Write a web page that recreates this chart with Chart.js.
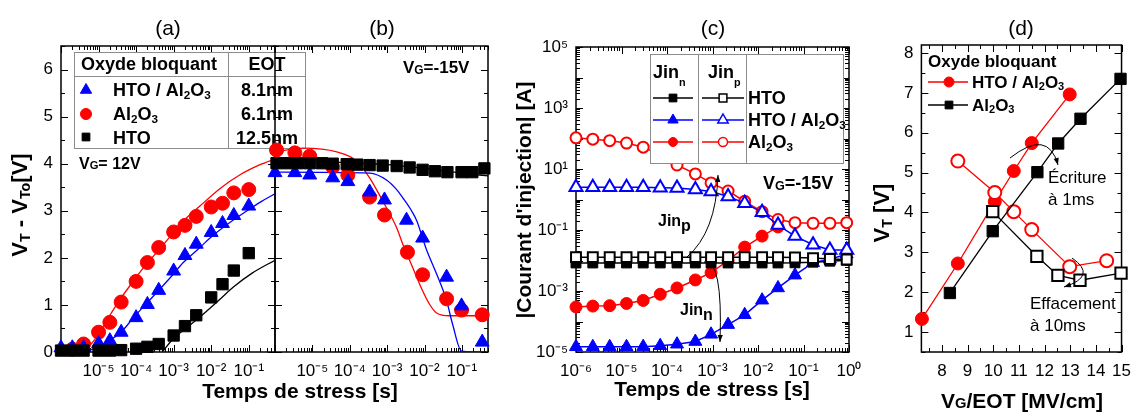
<!DOCTYPE html>
<html><head><meta charset="utf-8">
<script src="https://cdn.jsdelivr.net/npm/chart.js@4.4.1/dist/chart.umd.min.js"></script>
<style>
html,body{margin:0;padding:0;background:#fff;width:1140px;height:412px;overflow:hidden}
canvas{position:absolute;left:0;top:0}
</style></head><body>
<canvas id="ca" width="1140" height="412"></canvas>
<canvas id="cb" width="1140" height="412"></canvas>
<canvas id="cc" width="1140" height="412"></canvas>
<canvas id="cd" width="1140" height="412"></canvas>
<script>
// ---------- Panel (a): écriture, VG = 12V ----------
const aTimeAl2O3 = [2e-6,4e-6,1e-5,2e-5,4e-5,1e-4,2e-4,4e-4,1e-3,2e-3,4e-3,1e-2,2e-2,4e-2,1e-1];
const aVtAl2O3   = [0.06,0.17,0.42,0.63,1.06,1.5,1.9,2.22,2.55,2.69,2.88,3.08,3.16,3.38,3.45];
const aTimeHtoAl = [1e-6,2e-6,4e-6,1e-5,2e-5,4e-5,1e-4,2e-4,4e-4,1e-3,2e-3,4e-3,1e-2,2e-2,4e-2,1e-1];
const aVtHtoAl   = [0.09,0.09,0.09,0.18,0.24,0.42,0.73,1.01,1.31,1.72,2.05,2.29,2.54,2.73,2.9,3.1];
const aTimeHto   = [1e-6,2e-6,4e-6,1e-5,2e-5,4e-5,1e-4,2e-4,4e-4,1e-3,2e-3,4e-3,1e-2,2e-2,4e-2,1e-1];
const aVtHto     = [0.03,0.03,0.03,0.03,0.03,0.04,0.07,0.11,0.17,0.35,0.55,0.78,1.16,1.44,1.73,2.1];
const aFitTimeAl2O3 = [3.5e-6,6e-6,1e-5,2e-5,4e-5,8e-5,1.8e-4,3.6e-4,8e-4,1.5e-3,5e-3,1.7e-2,6e-2,0.2,0.5];
const aFitAl2O3     = [0,0.15,0.38,0.78,1.15,1.48,1.85,2.12,2.45,2.72,3.1,3.47,3.77,3.98,4.1];
const aFitTimeHtoAl = [4.4e-6,9e-6,1.8e-5,4.3e-5,8.3e-5,1.74e-4,3.9e-4,9e-4,1.8e-3,4.3e-3,9.3e-3,2.1e-2,9e-2,0.22,0.5];
const aFitHtoAl     = [0,0.1,0.22,0.45,0.72,1.0,1.3,1.62,1.9,2.17,2.42,2.65,3.0,3.2,3.36];
const aFitTimeHto   = [5e-4,9e-4,2.5e-3,5.1e-3,1.6e-2,3.9e-2,0.126,0.5];
const aFitHto       = [0,0.25,0.55,0.75,1.1,1.38,1.68,1.95];

// ---------- Panel (b): effacement, VG = -15V ----------
const bTimeHto   = [1.1e-6,2.2e-6,4.1e-6,8.5e-6,1.8e-5,3.5e-5,8.3e-5,1.6e-4,3.4e-4,7.6e-4,1.8e-3,4e-3,8.9e-3,1.9e-2,4.1e-2,9.8e-2,0.19,0.4];
const bVtHto     = [4.01,4.01,4.01,4.01,4.01,4.0,3.99,3.98,3.97,3.96,3.95,3.92,3.87,3.84,3.82,3.82,3.82,3.9];
const bTimeAl2O3 = [1.1e-6,3.4e-6,8.5e-6,3.5e-5,8.9e-5,3.4e-4,8.5e-4,3.5e-3,8.9e-3,3.9e-2,9.8e-2,0.35];
const bVtAl2O3   = [4.29,4.23,4.16,3.93,3.76,3.29,2.91,2.12,1.64,1.13,0.89,0.79];
const bTimeHtoAl = [1e-6,3.4e-6,8.5e-6,3.5e-5,8.9e-5,3.4e-4,8.5e-4,3.3e-3,8.9e-3,3.9e-2,9.8e-2,0.35];
const bVtHtoAl   = [3.81,3.81,3.76,3.7,3.62,3.4,3.23,2.8,2.42,1.59,0.98,0.21];
const bFitTimeHto   = [1e-6,1e-4,1e-3,1e-2,0.1,0.5];
const bFitHto       = [4.06,4.02,3.98,3.9,3.8,3.74];
const bFitTimeAl2O3 = [1e-6,5.6e-6,4.5e-5,1.5e-4,3.4e-4,7.6e-4,1.8e-3,2.6e-3,4.8e-3,8.9e-3,1.35e-2,2.1e-2,4.7e-2,0.5];
const bFitAl2O3     = [4.25,4.33,4.25,4.06,3.7,3.21,2.64,2.3,1.8,1.3,1.02,0.83,0.77,0.77];
const bFitTimeHtoAl = [1e-6,3.4e-4,9.8e-4,1.8e-3,2.6e-3,4.5e-3,6.2e-3,1.1e-2,2.1e-2,3.9e-2,5.6e-2,9.8e-2,0.5];
const bFitHtoAl     = [3.82,3.8,3.65,3.45,3.28,3.0,2.79,2.2,1.66,1.09,0.6,0.02,0];

// ---------- Panel (c): courants d'injection, VG = -15V ----------
const cTime        = [1e-6,2.34e-6,5.5e-6,1.29e-5,3.0e-5,7.1e-5,1.66e-4,4.2e-4,9.3e-4,2.2e-3,5.1e-3,1.23e-2,2.75e-2,6.5e-2,0.162,0.38,0.89];
const cJinnHto     = [8.3e-3,8.3e-3,8.3e-3,8.3e-3,8.3e-3,8.3e-3,8.3e-3,8.3e-3,8.3e-3,8.3e-3,8.3e-3,8.3e-3,8.3e-3,8.4e-3,8.8e-3,9.5e-3,1.02e-2];
const cJinpHto     = [1.29e-2,1.29e-2,1.29e-2,1.29e-2,1.29e-2,1.29e-2,1.29e-2,1.29e-2,1.29e-2,1.29e-2,1.29e-2,1.29e-2,1.28e-2,1.26e-2,1.2e-2,1.12e-2,1.08e-2];
const cJinnHtoAl   = [1.48e-5,1.48e-5,1.48e-5,1.48e-5,1.5e-5,1.6e-5,1.8e-5,2.2e-5,3.8e-5,7.9e-5,1.66e-4,5.0e-4,1.26e-3,3.3e-3,8.5e-3,1.1e-2,1.6e-2];
const cJinpHtoAl   = [2.5,2.5,2.5,2.5,2.5,2.45,2.4,2.14,1.82,1.26,0.76,0.38,0.145,0.063,0.033,0.022,0.022];
const cJinnAl2O3   = [3.0e-4,3.2e-4,3.3e-4,3.9e-4,4.9e-4,7.8e-4,1.26e-3,2.3e-3,4.0e-3,1.0e-2,2.75e-2,6.3e-2,0.126];
const cJinpAl2O3   = [105,95,85,71,52,29,13.5,6.9,3.5,1.9,0.87,0.40,0.22,0.174,0.166,0.166,0.174];

// ---------- Panel (d): VT vs VG/EOT ----------
const dFieldWriteHtoAl = [7.22,8.62,10.06,10.8,11.5,12.98];
const dVtWriteHtoAl    = [1.33,2.72,4.27,5.04,5.74,6.96];
const dFieldEraseHtoAl = [8.62,10.06,10.8,11.5,12.98,14.42];
const dVtEraseHtoAl    = [5.29,4.5,4.02,3.57,2.64,2.79];
const dFieldWriteAl2O3 = [8.31,9.98,11.72,12.53,13.4,14.96];
const dVtWriteAl2O3    = [1.98,3.53,5.01,5.73,6.35,7.35];
const dFieldEraseAl2O3 = [9.98,11.7,12.52,13.38,14.98];
const dVtEraseAl2O3    = [4.02,2.9,2.42,2.3,2.48];

// ---------- tick labels ----------
const abXTicks = [1e-5,1e-4,1e-3,1e-2,1e-1];
const abYTicks = [0,1,2,3,4,5,6];
const cXTicks  = [1e-6,1e-5,1e-4,1e-3,1e-2,1e-1,1];
const cYTicks  = [1e-5,1e-3,1e-1,1e1,1e3,1e5];
const dXTicks  = [8,9,10,11,12,13,14,15];
const dYTicks  = [1,2,3,4,5,6,7,8];

// ---------- helpers ----------
const W = 1140, H = 412, XH = 40;
const RED = '#ff0000', BLUE = '#0000ff', BLACK = '#000000';
const FONT = '"Liberation Sans", Arial, Helvetica, sans-serif';
const fnt = (s, b) => (b ? 'bold ' : '') + s + 'px ' + FONT;
const pts = (xs, ys) => ys.map((y, i) => ({x: xs[i], y}));
const SUP = {'-':'\u207B','0':'\u2070','1':'\u00B9','2':'\u00B2','3':'\u00B3','4':'\u2074','5':'\u2075','6':'\u2076','7':'\u2077','8':'\u2078','9':'\u2079'};
const pow10Label = v => '10' + String(Math.round(Math.log10(v))).split('').map(c => SUP[c]).join('');

function rich(ctx, x, y, text, o) {
  o = Object.assign({size:18, bold:false, align:'left', color:'#000', subScale:0.65, subDy:0.12, rot:0}, o || {});
  const segs = []; const re = /_\{([^}]*)\}|\^\{([^}]*)\}|([^_^]+)/g; let m;
  while ((m = re.exec(text))) {
    if (m[1] !== undefined) segs.push({t:m[1], k:'sub'});
    else if (m[2] !== undefined) segs.push({t:m[2], k:'sup'});
    else segs.push({t:m[3], k:'n'});
  }
  ctx.save();
  let w = 0;
  for (const s of segs) { s.size = s.k === 'n' ? o.size : o.size * o.subScale; ctx.font = fnt(s.size, o.bold); s.w = ctx.measureText(s.t).width; w += s.w; }
  ctx.translate(x, y); if (o.rot) ctx.rotate(o.rot);
  let cx = o.align === 'center' ? -w / 2 : (o.align === 'right' ? -w : 0);
  const base = 0.36 * o.size;
  ctx.fillStyle = o.color; ctx.textAlign = 'left'; ctx.textBaseline = 'alphabetic';
  for (const s of segs) {
    ctx.font = fnt(s.size, o.bold);
    const dy = s.k === 'sub' ? o.size * o.subDy : (s.k === 'sup' ? -o.size * 0.4 : 0);
    ctx.fillText(s.t, cx, base + dy); cx += s.w;
  }
  ctx.restore();
}
function marker(ctx, style, x, y, r, fill, stroke, lw) {
  ctx.save(); ctx.beginPath();
  if (style === 'circle') ctx.arc(x, y, r, 0, Math.PI * 2);
  else if (style === 'triangle') { ctx.moveTo(x, y - r); ctx.lineTo(x + 0.866 * r, y + 0.5 * r); ctx.lineTo(x - 0.866 * r, y + 0.5 * r); ctx.closePath(); }
  else { const s = Math.SQRT1_2 * r; ctx.rect(x - s, y - s, 2 * s, 2 * s); }
  ctx.fillStyle = fill; ctx.fill(); ctx.lineWidth = lw || 1; ctx.strokeStyle = stroke; ctx.stroke(); ctx.restore();
}
function seg(ctx, x1, y1, x2, y2, color, lw) { ctx.save(); ctx.beginPath(); ctx.moveTo(x1, y1); ctx.lineTo(x2, y2); ctx.strokeStyle = color; ctx.lineWidth = lw || 1; ctx.stroke(); ctx.restore(); }
function curveArrow(ctx, p0, p1, p2) {
  ctx.save(); ctx.strokeStyle = '#000'; ctx.fillStyle = '#000'; ctx.lineWidth = 1;
  ctx.beginPath(); ctx.moveTo(p0[0], p0[1]); ctx.quadraticCurveTo(p1[0], p1[1], p2[0], p2[1]); ctx.stroke();
  const a = Math.atan2(p2[1] - p1[1], p2[0] - p1[0]), L = 7, S = 2.6;
  ctx.beginPath(); ctx.moveTo(p2[0], p2[1]);
  ctx.lineTo(p2[0] - L * Math.cos(a) + S * Math.sin(a), p2[1] - L * Math.sin(a) - S * Math.cos(a));
  ctx.lineTo(p2[0] - L * Math.cos(a) - S * Math.sin(a), p2[1] - L * Math.sin(a) + S * Math.cos(a));
  ctx.closePath(); ctx.fill(); ctx.restore();
}
function tickVals(scale, step) {
  const out = [];
  if (scale.type === 'logarithmic') {
    const e0 = Math.floor(Math.log10(scale.min)), e1 = Math.ceil(Math.log10(scale.max));
    for (let e = e0; e <= e1; e++) for (let k = 1; k < 10; k++) {
      const v = k * Math.pow(10, e);
      if (v >= scale.min * 0.9999 && v <= scale.max * 1.0001) out.push([v, k === 1]);
    }
  } else {
    for (let v = Math.ceil(scale.min / step - 1e-9) * step; v <= scale.max + 1e-9; v += step) out.push([v, Math.abs(v - Math.round(v)) < 1e-6]);
  }
  return out;
}
function framePlugin(opts) {
  return {
    id: 'frame',
    beforeDatasetsDraw(chart) {
      const ctx = chart.ctx, a = chart.chartArea, xs = chart.scales.x, ys = chart.scales.y;
      ctx.save(); ctx.strokeStyle = '#000'; ctx.lineWidth = 1;
      ctx.beginPath();
      for (const [v, maj] of tickVals(xs, opts.xStep)) {
        const p = Math.round(xs.getPixelForValue(v)) + 0.5, L = maj ? 7 : 4;
        ctx.moveTo(p, a.bottom); ctx.lineTo(p, a.bottom - L);
        ctx.moveTo(p, a.top); ctx.lineTo(p, a.top + L);
      }
      for (const [v, maj] of tickVals(ys, opts.yStep)) {
        const p = Math.round(ys.getPixelForValue(v)) + 0.5, L = maj ? 7 : 4;
        ctx.moveTo(a.left, p); ctx.lineTo(a.left + L, p);
        ctx.moveTo(a.right, p); ctx.lineTo(a.right - L, p);
      }
      ctx.stroke();
      ctx.lineWidth = 1.5; ctx.strokeRect(a.left, a.top, a.right - a.left, a.bottom - a.top);
      ctx.restore();
    },
    afterDraw(chart) { if (opts.draw) opts.draw(chart.ctx); }
  };
}
function axis(c, which, size) {
  return {
    type: c.type, min: c.min, max: c.max, position: which === 'x' ? 'bottom' : 'left',
    afterFit(s) { if (which === 'x') s.height = size; else s.width = size; },
    afterBuildTicks(s) { s.ticks = c.ticks.map(v => ({value: v})); },
    grid: {display: false, drawTicks: false}, border: {display: false},
    ticks: {display: c.labels !== false, autoSkip: false, maxRotation: 0, minRotation: 0,
      padding: which === 'x' ? 9 : 8, color: '#000', font: {family: FONT, size: 17},
      callback: c.type === 'logarithmic' ? (v => pow10Label(v)) : (v => String(v))}
  };
}
function makeChart(id, area, yw, xc, yc, datasets, opts) {
  return new Chart(document.getElementById(id), {
    type: 'line',
    data: {datasets},
    options: {
      responsive: false, animation: false, devicePixelRatio: 1, events: [],
      layout: {padding: {left: area.l - yw, top: area.t, right: W - area.r, bottom: H - area.b - XH}},
      plugins: {legend: {display: false}, tooltip: {enabled: false}, title: {display: false}},
      scales: {x: axis(xc, 'x', XH), y: axis(yc, 'y', yw)}
    },
    plugins: [framePlugin(opts)]
  });
}
function mk(data, style, r, color, open, extra) {
  return Object.assign({data, showLine: false, pointStyle: style, pointRadius: r, pointHoverRadius: r,
    pointBackgroundColor: open ? '#fff' : color, pointBorderColor: color, pointBorderWidth: open ? 2 : 1,
    borderColor: color, backgroundColor: color, clip: false}, extra || {});
}
function fit(data, color, lw) {
  return {data, pointRadius: 0, borderColor: color, borderWidth: lw || 1.3, tension: 0.4, cubicInterpolationMode: 'monotone', fill: false};
}
function conn(data, style, r, color, open) {
  return mk(data, style, r, color, open, {showLine: true, borderWidth: 1.5});
}

// ---------- Panel (a) ----------
makeChart('ca', {l: 61, r: 275, t: 46, b: 352}, 55,
  {type: 'logarithmic', min: 1e-6, max: 0.5, ticks: abXTicks},
  {type: 'linear', min: 0, max: 6.5, ticks: abYTicks},
  [
    mk(pts(aTimeHto, aVtHto), 'rect', 8, BLACK),
    mk(pts(aTimeHtoAl, aVtHtoAl), 'triangle', 8, BLUE),
    mk(pts(aTimeAl2O3, aVtAl2O3), 'circle', 7, RED),
    fit(pts(aFitTimeHto, aFitHto), BLACK),
    fit(pts(aFitTimeHtoAl, aFitHtoAl), BLUE),
    fit(pts(aFitTimeAl2O3, aFitAl2O3), RED)
  ],
  {yStep: 0.5, draw(ctx) {
    rich(ctx, 168, 27, '(a)', {size: 21, align: 'center'});
    rich(ctx, 19, 205, 'V_{T} - V_{To}[V]', {size: 22, bold: true, align: 'center', rot: -Math.PI / 2});
    rich(ctx, 300, 390, 'Temps de stress [s]', {size: 21, bold: true, align: 'center'});
    ctx.save(); ctx.fillStyle = '#fff'; ctx.fillRect(74, 52, 231, 96); ctx.restore();
    ctx.save(); ctx.strokeStyle = '#8c8c8c'; ctx.lineWidth = 1;
    ctx.strokeRect(74.5, 52.5, 231, 96);
    ctx.beginPath(); ctx.moveTo(74.5, 76.5); ctx.lineTo(305.5, 76.5); ctx.moveTo(228.5, 52.5); ctx.lineTo(228.5, 148.5); ctx.stroke(); ctx.restore();
    rich(ctx, 81, 64, 'Oxyde bloquant', {size: 18, bold: true});
    rich(ctx, 267, 64, 'EOT', {size: 18, bold: true, align: 'center'});
    marker(ctx, 'triangle', 86, 90, 6.5, BLUE, BLUE);
    marker(ctx, 'circle', 86, 114, 5.5, RED, RED);
    marker(ctx, 'rect', 86, 137, 5.5, BLACK, BLACK);
    rich(ctx, 113, 90, 'HTO / Al_{2}O_{3}', {size: 18, bold: true});
    rich(ctx, 113, 114, 'Al_{2}O_{3}', {size: 18, bold: true});
    rich(ctx, 113, 138, 'HTO', {size: 18, bold: true});
    rich(ctx, 267, 90, '8.1nm', {size: 18, bold: true, align: 'center'});
    rich(ctx, 267, 114, '6.1nm', {size: 18, bold: true, align: 'center'});
    rich(ctx, 267, 138, '12.5nm', {size: 18, bold: true, align: 'center'});
    rich(ctx, 79, 163, 'V_{G}= 12V', {size: 16, bold: true, subScale: 0.7, subDy: 0.03});
  }});

// ---------- Panel (b) ----------
makeChart('cb', {l: 275, r: 488, t: 46, b: 352}, 0,
  {type: 'logarithmic', min: 1e-6, max: 0.5, ticks: abXTicks},
  {type: 'linear', min: 0, max: 6.5, ticks: abYTicks, labels: false},
  [
    mk(pts(bTimeHto, bVtHto), 'rect', 8, BLACK),
    mk(pts(bTimeHtoAl, bVtHtoAl), 'triangle', 8, BLUE),
    mk(pts(bTimeAl2O3, bVtAl2O3), 'circle', 7, RED),
    fit(pts(bFitTimeHto, bFitHto), BLACK),
    fit(pts(bFitTimeHtoAl, bFitHtoAl), BLUE),
    fit(pts(bFitTimeAl2O3, bFitAl2O3), RED)
  ],
  {yStep: 0.5, draw(ctx) {
    rich(ctx, 382, 27, '(b)', {size: 21, align: 'center'});
    rich(ctx, 403, 67, 'V_{G}=-15V', {size: 17, bold: true, subScale: 0.7, subDy: 0.03});
  }});

// ---------- Panel (c) ----------
makeChart('cc', {l: 576, r: 849, t: 47, b: 352}, 60,
  {type: 'logarithmic', min: 1e-6, max: 1, ticks: cXTicks},
  {type: 'logarithmic', min: 1e-5, max: 1e5, ticks: cYTicks},
  [
    conn(pts(cTime, cJinpHto), 'rect', 7, BLACK, true),
    conn(pts(cTime, cJinnHto), 'rect', 7, BLACK, false),
    conn(pts(cTime, cJinpHtoAl), 'triangle', 7.5, BLUE, true),
    conn(pts(cTime, cJinnHtoAl), 'triangle', 7.5, BLUE, false),
    conn(pts(cTime, cJinpAl2O3), 'circle', 5.5, RED, true),
    conn(pts(cTime, cJinnAl2O3), 'circle', 6, RED, false)
  ],
  {draw(ctx) {
    rich(ctx, 713, 27, '(c)', {size: 21, align: 'center'});
    rich(ctx, 523, 200, "|Courant d'injection| [A]", {size: 21, bold: true, align: 'center', rot: -Math.PI / 2});
    rich(ctx, 712, 388, 'Temps de stress [s]', {size: 21, bold: true, align: 'center'});
    ctx.save(); ctx.fillStyle = '#fff'; ctx.fillRect(650, 54, 193, 109);
    ctx.strokeStyle = '#8c8c8c'; ctx.lineWidth = 1; ctx.strokeRect(650.5, 54.5, 193, 109);
    ctx.beginPath(); ctx.moveTo(698.5, 54.5); ctx.lineTo(698.5, 163.5); ctx.moveTo(746.5, 54.5); ctx.lineTo(746.5, 163.5); ctx.stroke(); ctx.restore();
    rich(ctx, 653, 72, 'Jin_{n}', {size: 18, bold: true, subScale: 0.6, subDy: 0.4});
    rich(ctx, 708, 72, 'Jin_{p}', {size: 18, bold: true, subScale: 0.6, subDy: 0.4});
    const rows = [[98, BLACK, 'rect', 5.5, 'HTO'], [120, BLUE, 'triangle', 6, 'HTO / Al_{2}O_{3}'], [142, RED, 'circle', 4.5, 'Al_{2}O_{3}']];
    for (const [y, col, st, r, lab] of rows) {
      seg(ctx, 653, y, 693, y, col, 1.5); marker(ctx, st, 673, y, r, col, col, 1);
      seg(ctx, 702, y, 744, y, col, 1.5); marker(ctx, st, 723, y, r, '#fff', col, 1.5);
      rich(ctx, 748, y, lab, {size: 18, bold: true});
    }
    rich(ctx, 763, 183, 'V_{G}=-15V', {size: 18, bold: true, subScale: 0.7, subDy: 0.03});
    rich(ctx, 658, 220, 'Jin_{p}', {size: 16, bold: true, subScale: 1, subDy: 0.3});
    rich(ctx, 680, 309, 'Jin_{n}', {size: 16, bold: true, subScale: 1, subDy: 0.3});
    curveArrow(ctx, [687, 257], [716, 232], [718, 175]);
    curveArrow(ctx, [704, 262], [723, 258], [720, 342]);
  }});

// ---------- Panel (d) ----------
makeChart('cd', {l: 921.4, r: 1122.5, t: 45, b: 352}, 30,
  {type: 'linear', min: 7.2, max: 15, ticks: dXTicks},
  {type: 'linear', min: 0.5, max: 8.2, ticks: dYTicks},
  [
    mk(pts(dFieldEraseAl2O3, dVtEraseAl2O3), 'rect', 8, BLACK, true, {showLine: true, borderWidth: 1.3}),
    mk(pts(dFieldWriteAl2O3, dVtWriteAl2O3), 'rect', 8, BLACK, false, {showLine: true, borderWidth: 1.3}),
    mk(pts(dFieldEraseHtoAl, dVtEraseHtoAl), 'circle', 6.5, RED, true, {showLine: true, borderWidth: 1.3}),
    mk(pts(dFieldWriteHtoAl, dVtWriteHtoAl), 'circle', 6.5, RED, false, {showLine: true, borderWidth: 1.3})
  ],
  {xStep: 0.5, yStep: 0.5, draw(ctx) {
    rich(ctx, 1021, 27, '(d)', {size: 21, align: 'center'});
    rich(ctx, 881, 213, 'V_{T} [V]', {size: 22, bold: true, align: 'center', rot: -Math.PI / 2});
    rich(ctx, 1022, 400, 'V_{G}/EOT [MV/cm]', {size: 21, bold: true, align: 'center', subScale: 0.7, subDy: 0.03});
    rich(ctx, 928, 61, 'Oxyde bloquant', {size: 17, bold: true});
    seg(ctx, 928, 82, 968, 82, RED, 1.3); marker(ctx, 'circle', 949, 82, 5, RED, RED);
    rich(ctx, 972, 82, 'HTO / Al_{2}O_{3}', {size: 17, bold: true});
    seg(ctx, 928, 105, 968, 105, BLACK, 1.3); marker(ctx, 'rect', 949, 105, 5.5, BLACK, BLACK);
    rich(ctx, 972, 105, 'Al_{2}O_{3}', {size: 17, bold: true});
    rich(ctx, 1048, 177, '\u00C9criture', {size: 17});
    rich(ctx, 1048, 199, '\u00E0 1ms', {size: 17});
    rich(ctx, 1030, 303, 'Effacement', {size: 17});
    rich(ctx, 1030, 325, '\u00E0 10ms', {size: 17});
    curveArrow(ctx, [1010, 158], [1048, 128], [1058, 165]);
    curveArrow(ctx, [1072, 258], [1098, 276], [1064, 287]);
  }});
</script>
</body></html>
